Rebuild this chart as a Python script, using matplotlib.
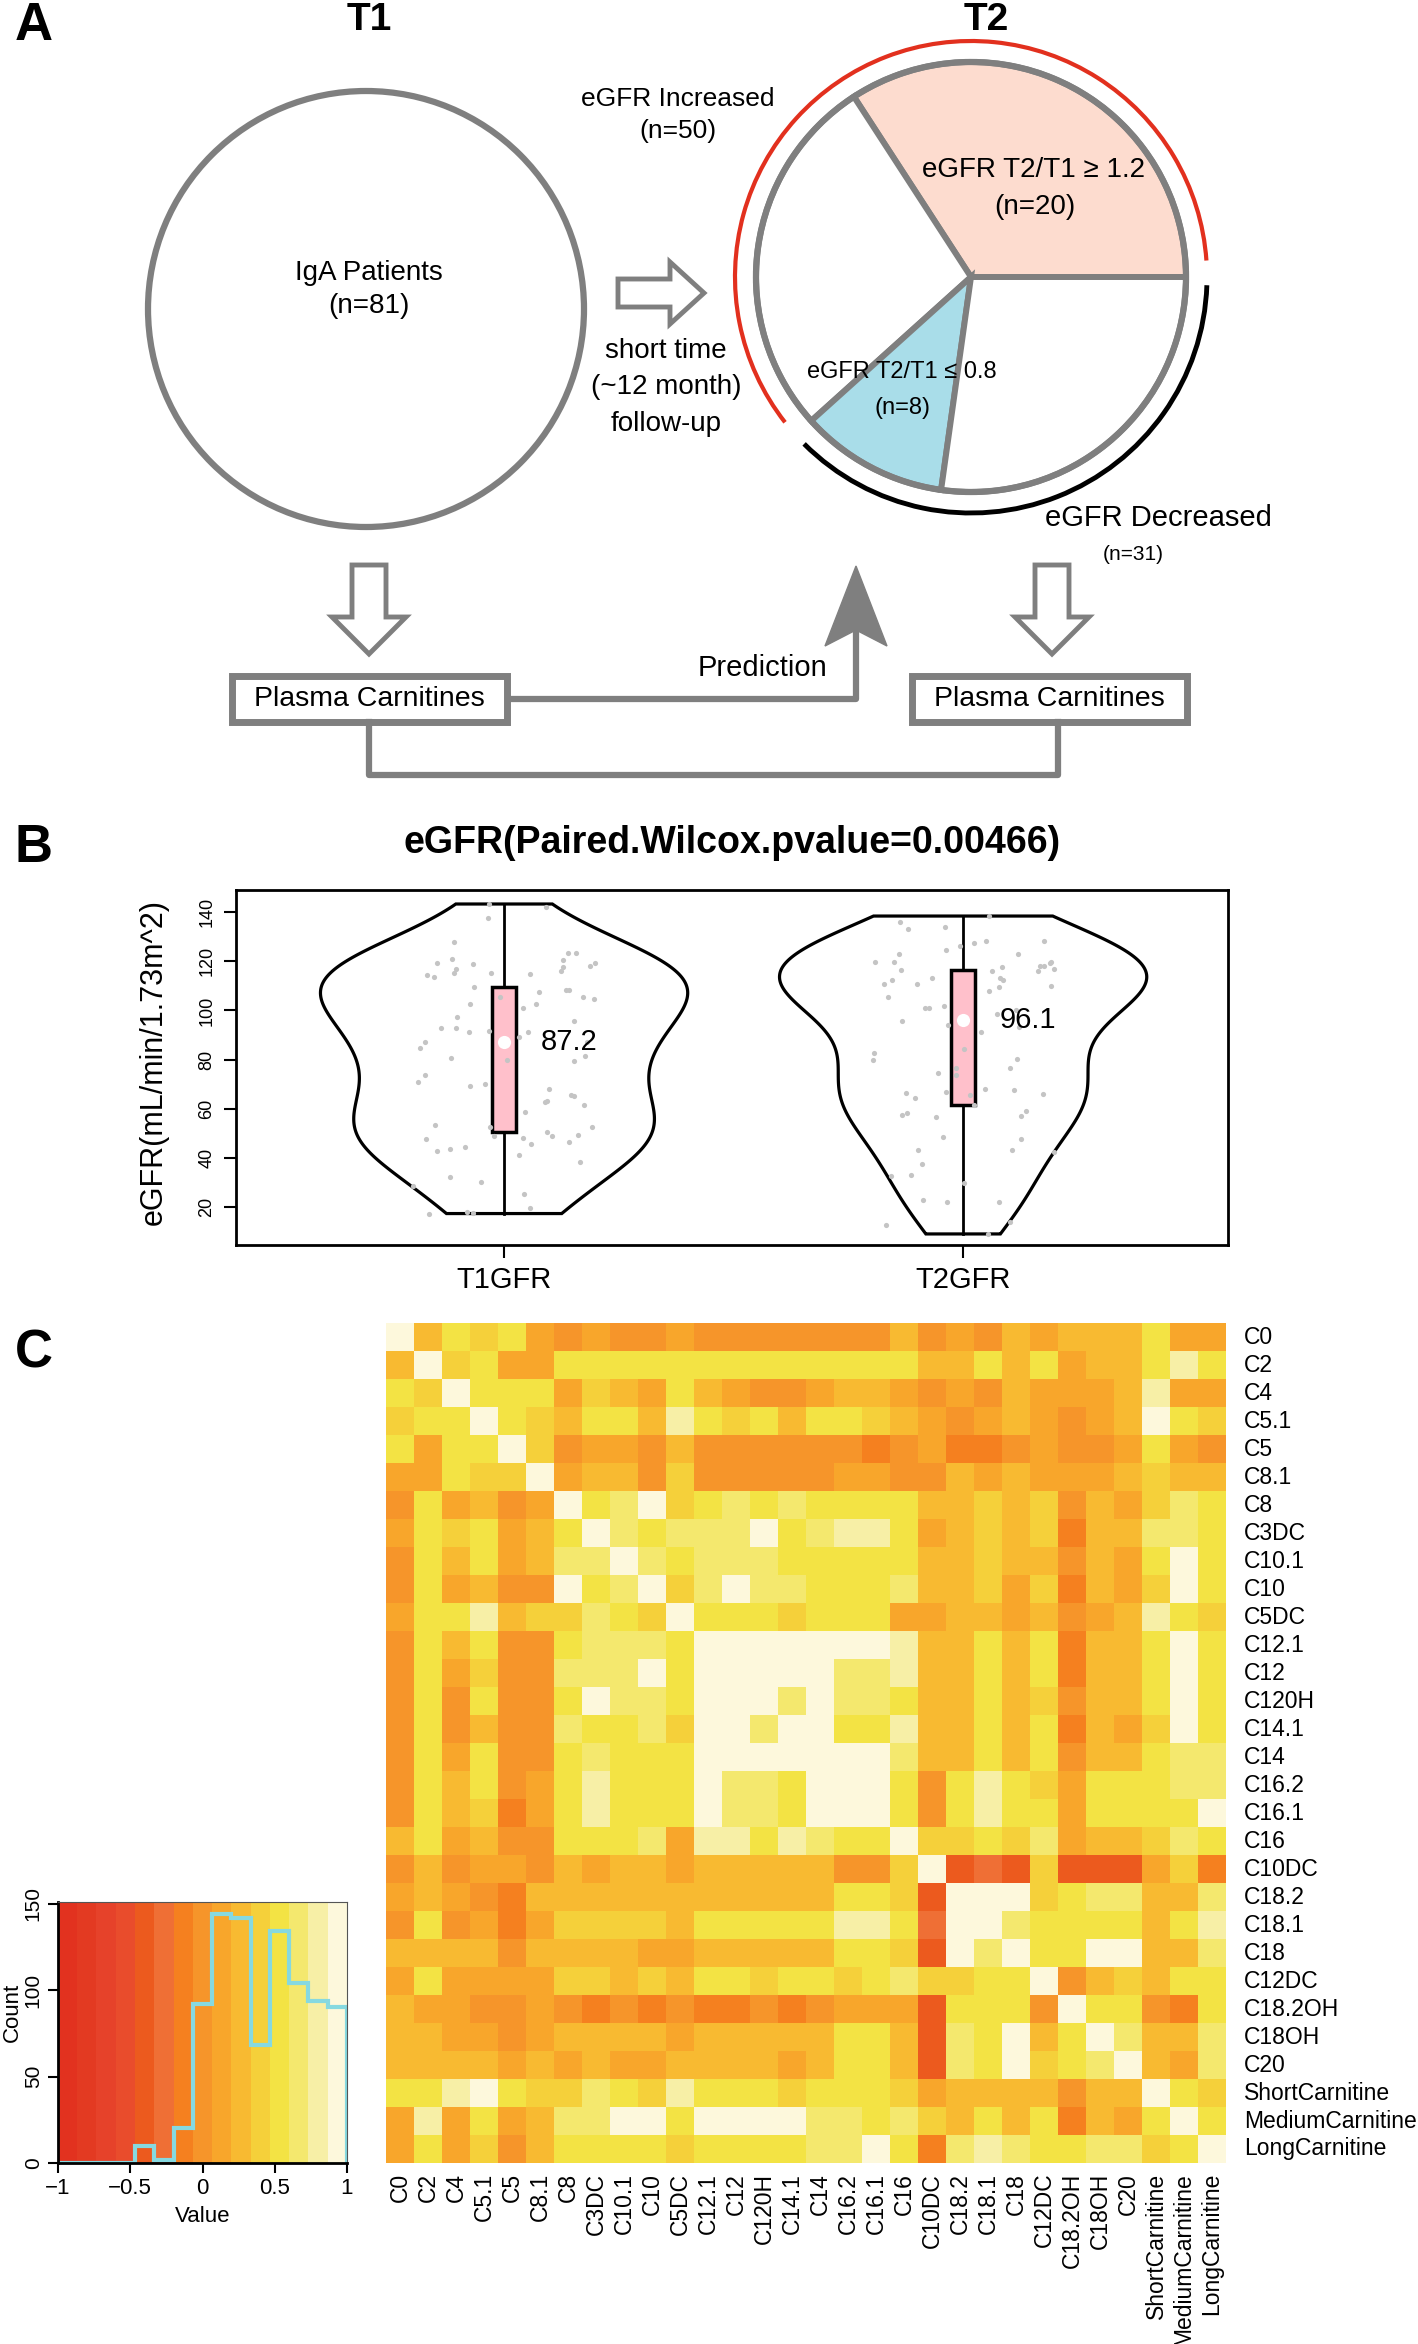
import numpy as np
import matplotlib
matplotlib.use('Agg')
import matplotlib.pyplot as plt
from matplotlib.patches import Wedge, Arc, Circle, Polygon, Rectangle
from matplotlib.colors import ListedColormap, BoundaryNorm

plt.rcParams['font.family'] = ['Liberation Sans', 'DejaVu Sans']

W, H = 1418, 2344
GRAY = '#7f7f7f'

# ---------------- panel A : cohort scheme
n_total = 81
n_up, n_down = 50, 31
n_hi, n_lo = 20, 8
slice_deg = [0, 123, 222, 262, 360]          # slice borders as drawn (deg, ccw)
slice_col = ['#fddccf', 'white', '#a9dde9', 'white']

# ---------------- panel B : eGFR at T1 / T2
groups = ['T1GFR', 'T2GFR']
t1_egfr = [143.3, 137.4, 141.9, 127.9, 119.1, 120.8, 118.7, 114.4, 113.7, 116.7,
           115.3, 115.3, 109.5, 102.5, 97.2, 92.9, 92.7, 91.1, 91.6, 87.3,
           84.5, 80.8, 73.5, 70.7, 69.4, 70.1, 53.4, 47.6, 42.9, 43.7,
           44.2, 52.4, 48.7, 32.0, 30.3, 28.7, 17.3, 18.0, 17.6, 123.3,
           123.3, 120.4, 117.5, 116.2, 119.4, 117.9, 114.7, 108.2, 108.2, 107.6,
           105.6, 104.6, 102.8, 100.9, 105.3, 95.8, 89.3, 91.1, 87.0, 79.7,
           81.5, 79.2, 68.2, 63.1, 62.7, 65.6, 65.0, 61.4, 58.7, 52.4,
           50.5, 48.7, 49.1, 46.4, 48.0, 45.7, 41.3, 38.4, 25.4, 19.6]
t1_jit = [-0.032, -0.034, 0.092, -0.109, -0.147, -0.113, -0.067, -0.168, -0.152, -0.105,
          -0.110, -0.028, -0.065, -0.074, -0.102, -0.137, -0.105, -0.076, -0.033, -0.172,
          -0.184, -0.115, -0.172, -0.187, -0.074, -0.041, -0.150, -0.171, -0.147, -0.118,
          -0.086, -0.030, -0.023, -0.118, -0.050, -0.198, -0.163, -0.081, -0.068, 0.139,
          0.157, 0.128, 0.129, 0.124, 0.199, 0.187, 0.056, 0.134, 0.142, 0.075,
          0.172, 0.195, 0.070, 0.041, -0.008, 0.152, 0.033, 0.052, 0.180, 0.007,
          0.176, 0.152, 0.097, 0.093, 0.089, 0.145, 0.152, 0.175, 0.046, 0.192,
          0.094, 0.105, 0.162, 0.142, 0.041, 0.058, 0.033, 0.166, 0.044, 0.057]
t2_egfr = [135.8, 133.0, 134.0, 138.4, 126.2, 127.3, 128.2, 124.4, 122.8, 119.7,
           119.8, 116.3, 112.2, 110.6, 110.6, 113.0, 105.3, 101.0, 101.0, 101.9,
           95.8, 94.2, 82.7, 79.6, 74.7, 76.7, 73.5, 66.3, 64.4, 66.9,
           57.6, 58.2, 56.7, 48.4, 43.3, 37.3, 32.7, 32.9, 23.0, 21.9,
           29.6, 12.5, 128.1, 123.1, 119.8, 119.1, 118.2, 118.1, 116.2, 116.7,
           117.7, 116.0, 113.3, 112.5, 109.4, 107.9, 109.8, 91.1, 93.4, 100.2,
           98.6, 84.3, 80.3, 76.5, 68.2, 67.7, 65.8, 65.6, 61.6, 58.9,
           57.2, 47.8, 43.3, 42.5, 22.0, 13.9, 9.0]
t2_jit = [-0.137, -0.121, -0.040, 0.056, -0.006, 0.023, 0.049, -0.038, -0.140, -0.192,
          -0.150, -0.136, -0.154, -0.173, -0.100, -0.068, -0.163, -0.084, -0.074, -0.041,
          -0.134, -0.033, -0.195, -0.197, -0.055, -0.016, -0.015, -0.125, -0.105, -0.038,
          -0.134, -0.123, -0.059, -0.043, -0.098, -0.089, -0.158, -0.114, -0.088, -0.036,
          0.002, -0.168, 0.176, 0.119, 0.192, 0.190, 0.176, 0.168, 0.163, 0.197,
          0.084, 0.063, 0.080, 0.086, 0.078, 0.057, 0.192, 0.040, 0.121, 0.116,
          0.074, 0.001, 0.117, 0.103, 0.047, 0.110, 0.174, 0.015, 0.024, 0.137,
          0.125, 0.126, 0.107, 0.199, 0.078, 0.102, 0.054]
q1 = [50.3, 61.6]
med = [87.2, 96.1]
q3 = [109.5, 116.4]
pvalue = 0.00466

# ---------------- panel C : correlation of carnitines
carnitines = ['C0', 'C2', 'C4', 'C5.1', 'C5', 'C8.1', 'C8', 'C3DC', 'C10.1', 'C10',
              'C5DC', 'C12.1', 'C12', 'C120H', 'C14.1', 'C14', 'C16.2', 'C16.1', 'C16',
              'C10DC', 'C18.2', 'C18.1', 'C18', 'C12DC', 'C18.2OH', 'C18OH', 'C20',
              'ShortCarnitine', 'MediumCarnitine', 'LongCarnitine']
# upper triangle, row i holds r(i, j) for j > i
upper = [
    [0.27, 0.53, 0.40, 0.53, 0.13, 0.00, 0.13, 0.00, 0.00, 0.13, 0.00, 0.00, 0.00, 0.00, 0.00,
     0.00, 0.00, 0.27, 0.00, 0.13, 0.00, 0.27, 0.13, 0.27, 0.27, 0.27, 0.53, 0.13, 0.13],
    [0.40, 0.53, 0.13, 0.13, 0.53, 0.53, 0.53, 0.53, 0.53, 0.53, 0.53, 0.53, 0.53, 0.53, 0.53,
     0.53, 0.53, 0.27, 0.27, 0.53, 0.27, 0.53, 0.13, 0.27, 0.27, 0.53, 0.80, 0.53],
    [0.53, 0.53, 0.53, 0.13, 0.40, 0.27, 0.13, 0.53, 0.27, 0.13, 0.00, 0.00, 0.13, 0.27, 0.27,
     0.13, 0.00, 0.13, 0.00, 0.27, 0.13, 0.13, 0.13, 0.27, 0.80, 0.13, 0.13],
    [0.53, 0.40, 0.27, 0.53, 0.53, 0.27, 0.80, 0.53, 0.40, 0.53, 0.27, 0.53, 0.53, 0.40, 0.27,
     0.13, 0.00, 0.13, 0.27, 0.13, 0.00, 0.13, 0.27, 0.93, 0.53, 0.40],
    [0.40, 0.00, 0.13, 0.13, 0.00, 0.27, 0.00, 0.00, 0.00, 0.00, 0.00, 0.00, -0.13, 0.00, 0.13,
     -0.13, -0.13, 0.00, 0.13, 0.00, 0.00, 0.13, 0.53, 0.13, 0.00],
    [0.13, 0.27, 0.27, 0.00, 0.40, 0.00, 0.00, 0.00, 0.00, 0.00, 0.13, 0.13, 0.00, 0.00, 0.27,
     0.13, 0.27, 0.13, 0.13, 0.13, 0.27, 0.40, 0.27, 0.27],
    [0.53, 0.67, 0.93, 0.40, 0.53, 0.67, 0.53, 0.67, 0.53, 0.53, 0.53, 0.53, 0.27, 0.27, 0.40,
     0.27, 0.40, 0.00, 0.27, 0.13, 0.40, 0.67, 0.53],
    [0.67, 0.53, 0.67, 0.67, 0.67, 0.93, 0.53, 0.67, 0.80, 0.80, 0.53, 0.13, 0.27, 0.40, 0.27,
     0.40, -0.13, 0.27, 0.27, 0.67, 0.67, 0.53],
    [0.67, 0.53, 0.67, 0.67, 0.67, 0.53, 0.53, 0.53, 0.53, 0.53, 0.27, 0.27, 0.40, 0.27, 0.27,
     0.00, 0.27, 0.13, 0.53, 0.93, 0.53],
    [0.40, 0.67, 0.93, 0.67, 0.67, 0.53, 0.53, 0.53, 0.67, 0.27, 0.27, 0.40, 0.13, 0.40, -0.13,
     0.27, 0.13, 0.40, 0.93, 0.53],
    [0.53, 0.53, 0.53, 0.40, 0.53, 0.53, 0.53, 0.13, 0.13, 0.27, 0.27, 0.13, 0.27, 0.00, 0.13,
     0.27, 0.80, 0.53, 0.40],
    [0.93, 0.93, 0.93, 0.93, 0.93, 0.93, 0.80, 0.27, 0.27, 0.53, 0.27, 0.53, -0.13, 0.27, 0.27,
     0.53, 0.93, 0.53],
    [0.93, 0.93, 0.93, 0.67, 0.67, 0.80, 0.27, 0.27, 0.53, 0.27, 0.53, -0.13, 0.27, 0.27, 0.53,
     0.93, 0.53],
    [0.67, 0.93, 0.67, 0.67, 0.53, 0.27, 0.27, 0.53, 0.27, 0.40, 0.00, 0.27, 0.27, 0.53, 0.93,
     0.53],
    [0.93, 0.53, 0.53, 0.80, 0.27, 0.27, 0.53, 0.27, 0.53, -0.13, 0.27, 0.13, 0.40, 0.93, 0.53],
    [0.93, 0.93, 0.67, 0.27, 0.27, 0.53, 0.27, 0.53, 0.00, 0.27, 0.27, 0.53, 0.67, 0.67],
    [0.93, 0.53, 0.00, 0.53, 0.80, 0.53, 0.40, 0.13, 0.53, 0.53, 0.53, 0.67, 0.67],
    [0.53, 0.00, 0.53, 0.80, 0.53, 0.53, 0.13, 0.53, 0.53, 0.53, 0.53, 0.93],
    [0.40, 0.40, 0.53, 0.40, 0.67, 0.13, 0.27, 0.27, 0.40, 0.67, 0.53],
    [-0.40, -0.27, -0.40, 0.40, -0.40, -0.40, -0.40, 0.13, 0.40, -0.13],
    [0.93, 0.93, 0.40, 0.53, 0.67, 0.67, 0.27, 0.27, 0.67],
    [0.67, 0.53, 0.53, 0.53, 0.53, 0.27, 0.53, 0.80],
    [0.53, 0.53, 0.93, 0.93, 0.27, 0.27, 0.67],
    [0.00, 0.27, 0.40, 0.27, 0.53, 0.53],
    [0.53, 0.53, 0.00, -0.13, 0.53],
    [0.67, 0.27, 0.27, 0.67],
    [0.27, 0.13, 0.67],
    [0.53, 0.40],
    [0.53],
]
key_colors = ['#e2321f', '#e33a22', '#e6422a', '#e94c2c', '#ec5a1e', '#ef6f35', '#f5801f',
              '#f6952a', '#f8a62b', '#f8ba31', '#f5d03a', '#f3e344', '#f4e86e', '#f7efa6',
              '#fdf8dc']
hist_counts = [0, 0, 0, 0, 10, 2, 20, 92, 144, 142, 68, 134, 104, 94, 90]


fig = plt.figure(figsize=(W / 100, H / 100), dpi=100)


def px_axes(x0, y0, x1, y1):
    return fig.add_axes([x0 / W, 1 - y1 / H, (x1 - x0) / W, (y1 - y0) / H])


def px_text(x, y, s, **kw):
    fig.text(x / W, 1 - y / H, s, **kw)


# panel letters
for lab, y in [('A', 26), ('B', 848), ('C', 1353)]:
    px_text(34, y, lab, fontsize=38, fontweight='bold', ha='center', va='center')

# ================= A =================
axA = px_axes(0, 0, W, 800)
axA.set_xlim(0, W)
axA.set_ylim(800, 0)
axA.axis('off')

axA.text(369, 20, 'T1', fontsize=28, fontweight='bold', ha='center', va='center')
axA.text(986, 20, 'T2', fontsize=28, fontweight='bold', ha='center', va='center')

axA.add_patch(Circle((366, 309), 218, fill=False, ec=GRAY, lw=4.5))
axA.text(369, 273, 'IgA Patients', fontsize=20, ha='center', va='center')
axA.text(369, 306, f'(n={n_total})', fontsize=20, ha='center', va='center')

# hollow arrows
def hollow(points):
    axA.add_patch(Polygon(points, closed=True, fc='white', ec=GRAY, lw=3.5, joinstyle='miter'))

hollow([(618, 279), (670, 279), (670, 262), (704, 293), (670, 324), (670, 307), (618, 307)])
for cx in (369, 1052):
    hollow([(cx - 17, 565), (cx + 17, 565), (cx + 17, 617), (cx + 37, 617), (cx, 654),
            (cx - 37, 617), (cx - 17, 617)])

axA.text(666, 351, 'short time', fontsize=20, ha='center', va='center')
axA.text(666, 387, '(~12 month)', fontsize=20, ha='center', va='center')
axA.text(666, 424, 'follow-up', fontsize=20, ha='center', va='center')
axA.text(678, 99, 'eGFR Increased', fontsize=19, ha='center', va='center')
axA.text(678, 131, f'(n={n_up})', fontsize=19, ha='center', va='center')

# T2 pie (y axis is inverted, so screen angles are negated)
c2, r2 = (971, 277), 215
for k in range(4):
    a0, a1 = slice_deg[k], slice_deg[k + 1]
    axA.add_patch(Wedge(c2, r2, -a1, -a0, fc=slice_col[k], ec=GRAY, lw=4.3))
axA.add_patch(Circle(c2, r2, fill=False, ec=GRAY, lw=4.5))
axA.add_patch(Arc(c2, 2 * 236, 2 * 236, theta1=-218, theta2=-4, color='#e2301e', lw=3))
axA.add_patch(Arc(c2, 2 * 236, 2 * 236, theta1=2, theta2=135, color='black', lw=3.5))

axA.text(1033, 170, 'eGFR T2/T1 \u2265 1.2', fontsize=20, ha='center', va='center')
axA.text(1035, 207, f'(n={n_hi})', fontsize=20, ha='center', va='center')
axA.text(902, 372, 'eGFR T2/T1 \u2264 0.8', fontsize=17, ha='center', va='center')
axA.text(903, 408, f'(n={n_lo})', fontsize=17, ha='center', va='center')
axA.text(1158, 518, 'eGFR Decreased', fontsize=21, ha='center', va='center')
axA.text(1133, 554, f'(n={n_down})', fontsize=15, ha='center', va='center')

# boxes + connectors
for x0 in (232, 912):
    axA.add_patch(Rectangle((x0, 676), 275, 46, fill=False, ec=GRAY, lw=5))
    axA.text(x0 + 137, 699, 'Plasma Carnitines', fontsize=20.5, ha='center', va='center')
axA.plot([507, 856, 856], [699, 699, 630], color=GRAY, lw=4.5, solid_capstyle='butt')
axA.add_patch(Polygon([(856, 566), (887, 646), (856, 630), (825, 646)], closed=True,
                      fc=GRAY, ec=GRAY, lw=1))
axA.text(762, 668, 'Prediction', fontsize=21, ha='center', va='center')
axA.plot([369, 369, 1058, 1058], [722, 775, 775, 722], color=GRAY, lw=4.5)

# ================= B =================
axB = px_axes(236, 890, 1228, 1245)
for i, (ys, js) in enumerate([(t1_egfr, t1_jit), (t2_egfr, t2_jit)]):
    pos = i + 1
    ys = np.array(ys)
    lo, hi = ys.min(), ys.max()
    grid = np.linspace(lo, hi, 300)
    h = ys.std(ddof=1) * (4 / (3 * len(ys))) ** 0.2
    dens = np.exp(-0.5 * ((grid[:, None] - ys[None, :]) / h) ** 2).sum(1)
    half = 0.4 * dens / dens.max()
    axB.fill(np.r_[pos - half, (pos + half)[::-1]], np.r_[grid, grid[::-1]],
             fc='white', ec='black', lw=2.3, zorder=2)
    axB.plot([pos, pos], [lo, hi], color='black', lw=2, zorder=3)
    axB.add_patch(Rectangle((pos - 0.026, q1[i]), 0.052, q3[i] - q1[i], fc='#ffc0cb',
                            ec='black', lw=2.5, zorder=4))
    axB.scatter(pos + np.array(js), ys, s=14, color='#c4c4c4', lw=0, zorder=5)
    axB.scatter([pos], [med[i]], s=90, color='white', lw=0, zorder=6)
    axB.text(pos + 0.08, med[i], f'{med[i]:.1f}', fontsize=21, ha='left', va='center', zorder=7)

axB.set_xlim(0.416, 2.577)
axB.set_ylim(4.5, 149)
axB.set_xticks([1, 2])
axB.set_xticklabels(groups, fontsize=21)
axB.set_yticks(range(20, 141, 20))
axB.set_yticklabels([str(v) for v in range(20, 141, 20)], fontsize=13, rotation=90, va='center')
axB.tick_params(length=9, width=1.5, pad=6)
for s in axB.spines.values():
    s.set_linewidth(2)
px_text(732, 843, f'eGFR(Paired.Wilcox.pvalue={pvalue})', fontsize=27, fontweight='bold',
        ha='center', va='center')
px_text(154, 1062, 'eGFR(mL/min/1.73m^2)', fontsize=22, rotation=90, ha='center', va='center')

# ================= C =================
n = len(carnitines)
M = np.eye(n)
for i, row in enumerate(upper):
    M[i, i + 1:] = row
    M[i + 1:, i] = row

bounds = np.linspace(-1, 1, 16)
cmap = ListedColormap(key_colors)
norm = BoundaryNorm(np.r_[bounds[:-1], 1.001], cmap.N)

axC = px_axes(386, 1323, 1226, 2163)
axC.imshow(M, cmap=cmap, norm=norm, aspect='auto', interpolation='nearest',
           extent=(0, n, n, 0))
axC.set_xlim(0, n)
axC.set_ylim(n, 0)
axC.axis('off')
for i, name in enumerate(carnitines):
    axC.text(n + 0.65, i + 0.5, name, fontsize=16.5, ha='left', va='center', clip_on=False)
    axC.text(i + 0.5, n + 0.35, name, fontsize=16.5, ha='center', va='top', rotation=90,
             clip_on=False)

# colour key with histogram
axK = px_axes(58, 1902, 347, 2163)
centers = (bounds[:-1] + bounds[1:]) / 2
axK.imshow(centers[None, :], cmap=cmap, norm=norm, aspect='auto', interpolation='nearest',
           extent=(-1, 1, 0, 151))
axK.stairs(hist_counts, bounds, color='#86d9e0', lw=3)
axK.set_xlim(-1, 1)
axK.set_ylim(0, 151)
axK.set_xticks([-1, -0.5, 0, 0.5, 1])
axK.set_xticklabels(['\u22121', '\u22120.5', '0', '0.5', '1'], fontsize=16)
axK.set_yticks([0, 50, 100, 150])
axK.set_yticklabels(['0', '50', '100', '150'], fontsize=15, rotation=90, va='center')
axK.tick_params(length=7, width=1.5, pad=4)
for side in ('left', 'bottom'):
    axK.spines[side].set_linewidth(2)
for side in ('top', 'right'):
    axK.spines[side].set_color('#555555')
px_text(203, 2217, 'Value', fontsize=16, ha='center', va='center')
px_text(12, 2012, 'Count', fontsize=16, rotation=90, ha='center', va='center')

fig.savefig('out.png', dpi=100)
